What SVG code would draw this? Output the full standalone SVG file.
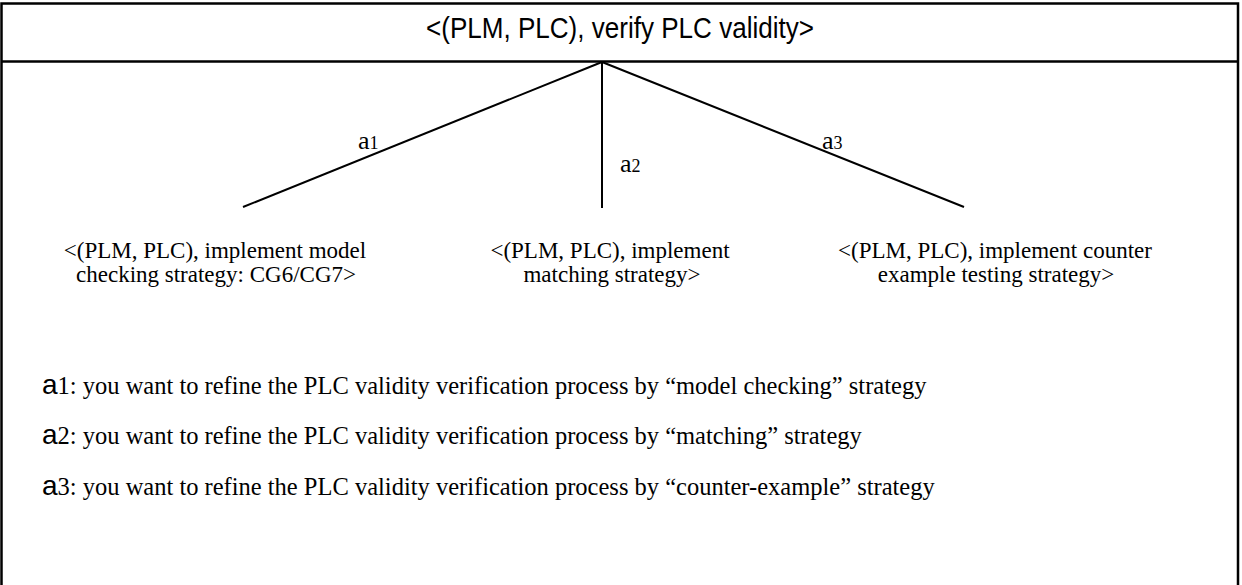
<svg xmlns="http://www.w3.org/2000/svg" width="1242" height="585" viewBox="0 0 1242 585">
  <style>
    .frame { fill: none; stroke: #000; stroke-width: 2.5; }
    .edge { stroke: #000; stroke-width: 2; fill: none; }
    .title { font-family: "Liberation Sans Narrow", "Liberation Sans", Arial, sans-serif; font-size: 30px; fill: #000; }
    .node { font-family: "Liberation Serif", "Times New Roman", serif; font-size: 23px; fill: #000; text-anchor: middle; }
    .lab { font-family: "Liberation Serif", "Times New Roman", serif; font-size: 26px; fill: #000; }
    .sub { font-size: 18px; }
    .leg { font-family: "Liberation Serif", "Times New Roman", serif; font-size: 24.5px; fill: #000; }
    .lega { font-family: "Liberation Sans", Arial, sans-serif; font-size: 28px; }
  </style>
  <defs>
    <clipPath id="cut"><rect x="0" y="210" width="1242" height="77"/></clipPath>
  </defs>
  <rect width="1242" height="585" fill="#fff"/>
  <g id="frame">
    <path class="frame" d="M1.5,600 V3.5 H1238 V600"/>
    <line class="frame" x1="1.5" y1="61.5" x2="1238" y2="61.5"/>
  </g>
  <g id="root">
    <text class="title" x="620" y="38" text-anchor="middle" textLength="388" lengthAdjust="spacingAndGlyphs">&lt;(PLM, PLC), verify PLC validity&gt;</text>
  </g>
  <g id="connectors">
    <line class="edge" x1="602" y1="62" x2="243" y2="207"/>
    <line class="edge" x1="602" y1="62" x2="602" y2="208"/>
    <line class="edge" x1="602" y1="62" x2="964" y2="207"/>
    <text class="lab" x="358" y="149">a<tspan class="sub">1</tspan></text>
    <text class="lab" x="620" y="172">a<tspan class="sub">2</tspan></text>
    <text class="lab" x="822" y="149">a<tspan class="sub">3</tspan></text>
  </g>
  <g id="node1" clip-path="url(#cut)">
    <text class="node" x="215" y="258">&lt;(PLM, PLC), implement model</text>
    <text class="node" x="216" y="282">checking strategy: CG6/CG7&gt;</text>
  </g>
  <g id="node2" clip-path="url(#cut)">
    <text class="node" x="610" y="258">&lt;(PLM, PLC), implement</text>
    <text class="node" x="612" y="282">matching strategy&gt;</text>
  </g>
  <g id="node3" clip-path="url(#cut)">
    <text class="node" x="995" y="258">&lt;(PLM, PLC), implement counter</text>
    <text class="node" x="996" y="282">example testing strategy&gt;</text>
  </g>
  <g id="legend">
    <text class="leg" x="42" y="394"><tspan class="lega">a</tspan>1: you want to refine the PLC validity verification process by “model checking” strategy</text>
    <text class="leg" x="42" y="444"><tspan class="lega">a</tspan>2: you want to refine the PLC validity verification process by “matching” strategy</text>
    <text class="leg" x="42" y="495"><tspan class="lega">a</tspan>3: you want to refine the PLC validity verification process by “counter-example” strategy</text>
  </g>
</svg>
